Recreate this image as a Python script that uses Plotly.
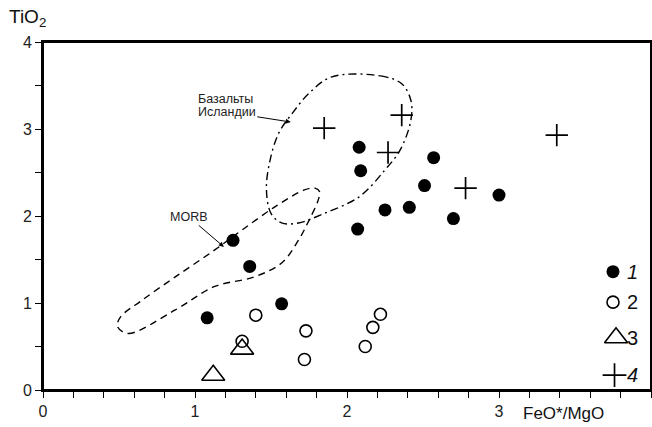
import plotly.graph_objects as go

# Series 1 (filled circles)
s1_x = [1.08, 1.25, 1.36, 1.57, 2.08, 2.09, 2.07, 2.25, 2.41, 2.51, 2.57, 2.70, 3.00]
s1_y = [0.83, 1.72, 1.42, 0.99, 2.79, 2.52, 1.85, 2.07, 2.10, 2.35, 2.67, 1.97, 2.24]
# Series 2 (open circles)
s2_x = [1.40, 1.31, 1.73, 1.72, 2.12, 2.17, 2.22]
s2_y = [0.86, 0.56, 0.68, 0.35, 0.50, 0.72, 0.87]
# Series 3 (open triangles)
s3_x = [1.31, 1.12]
s3_y = [0.47, 0.17]
# Series 4 (crosses)
s4_x = [1.85, 2.36, 2.27, 2.78, 3.38]
s4_y = [3.01, 3.16, 2.73, 2.32, 2.93]

# Iceland basalt field (dash-dot)
ice_x = [1.90, 2.22, 2.36, 2.42, 2.42, 2.35, 2.25, 2.08, 1.85, 1.68, 1.57, 1.50, 1.47, 1.49, 1.55, 1.64, 1.75, 1.90]
ice_y = [3.60, 3.61, 3.52, 3.33, 3.10, 2.76, 2.53, 2.22, 2.03, 1.92, 1.92, 2.03, 2.30, 2.61, 2.95, 3.18, 3.41, 3.60]
# MORB field (dashed)
morb_x = [0.49, 0.56, 0.87, 1.13, 1.39, 1.57, 1.68, 1.75, 1.81, 1.82, 1.79, 1.72, 1.53, 1.31, 1.13, 0.87, 0.65, 0.51, 0.49]
morb_y = [0.73, 0.65, 0.92, 1.19, 1.30, 1.46, 1.72, 1.95, 2.18, 2.28, 2.32, 2.30, 2.11, 1.84, 1.61, 1.30, 1.03, 0.84, 0.73]

# Legend
leg_x = 3.75
leg_y = [1.36, 1.01, 0.60, 0.17]
leg_labels = ["<i>1</i>", "2", "3", "<i>4</i>"]

x_ticks = [0, 1, 2, 3, 4]
y_ticks = [0, 1, 2, 3, 4]

fig = go.Figure()

fig.add_trace(go.Scatter(x=ice_x, y=ice_y, mode="lines",
                         line=dict(color="black", width=1.4, dash="8px,4px,2px,4px", shape="spline", smoothing=1.0),
                         hoverinfo="skip"))
fig.add_trace(go.Scatter(x=morb_x, y=morb_y, mode="lines",
                         line=dict(color="black", width=1.4, dash="7px,5px", shape="spline", smoothing=1.0),
                         hoverinfo="skip"))

fig.add_trace(go.Scatter(x=s1_x, y=s1_y, mode="markers",
                         marker=dict(symbol="circle", size=13, color="black")))
fig.add_trace(go.Scatter(x=s2_x, y=s2_y, mode="markers",
                         marker=dict(symbol="circle-open", size=12, color="black", line=dict(width=1.6))))
fig.add_trace(go.Scatter(x=s3_x, y=s3_y, mode="markers",
                         marker=dict(symbol="triangle-up-open", size=20, color="black", line=dict(width=1.6))))
fig.add_trace(go.Scatter(x=s4_x, y=s4_y, mode="markers",
                         marker=dict(symbol="cross-thin-open", size=16, color="black", line=dict(width=1.7))))

# legend markers
fig.add_trace(go.Scatter(x=[leg_x], y=[leg_y[0]], mode="markers",
                         marker=dict(symbol="circle", size=13, color="black")))
fig.add_trace(go.Scatter(x=[leg_x], y=[leg_y[1]], mode="markers",
                         marker=dict(symbol="circle-open", size=12, color="black", line=dict(width=1.6))))
fig.add_trace(go.Scatter(x=[leg_x + 0.02], y=[leg_y[2]], mode="markers",
                         marker=dict(symbol="triangle-up-open", size=20, color="black", line=dict(width=1.6))))
fig.add_trace(go.Scatter(x=[leg_x + 0.01], y=[leg_y[3]], mode="markers",
                         marker=dict(symbol="cross-thin-open", size=17, color="black", line=dict(width=1.7))))

for yy, lab in zip(leg_y, leg_labels):
    fig.add_annotation(x=leg_x + 0.08, y=yy, text=lab, showarrow=False, xanchor="left",
                       font=dict(size=20, color="#111", family="Liberation Sans"))

# field labels with arrows
fig.add_annotation(x=1.20, y=3.35, text="Базальты", showarrow=False,
                   font=dict(size=12.5, color="#222", family="Liberation Sans"))
fig.add_annotation(x=1.63, y=3.08, ax=-64, ay=-10, text="Исландии", showarrow=True,
                   arrowhead=2, arrowsize=1, arrowwidth=1, arrowcolor="black",
                   font=dict(size=12.5, color="#222", family="Liberation Sans"))
fig.add_annotation(x=1.19, y=1.645, ax=-35, ay=-30, text="MORB", showarrow=True,
                   arrowhead=2, arrowsize=1, arrowwidth=1, arrowcolor="black",
                   font=dict(size=12.5, color="#222", family="Liberation Sans"))

# axis titles
fig.add_annotation(xref="paper", yref="paper", x=-0.025, y=1.028, xanchor="center", yanchor="bottom",
                   text="TiO<sub>2</sub>", showarrow=False,
                   font=dict(size=19, color="#111", family="Liberation Sans"))
fig.add_annotation(xref="paper", yref="paper", x=0.926, y=-0.035, xanchor="right", yanchor="top",
                   text="FeO*/MgO", showarrow=False,
                   font=dict(size=17, color="#111", family="Liberation Sans"))

# frame
fig.add_shape(type="rect", xref="paper", yref="paper", x0=0, y0=0, x1=1, y1=1,
              line=dict(color="black", width=2), layer="above")

axis_common = dict(showline=True, linecolor="black", linewidth=2, mirror=True,
                   showgrid=False, zeroline=False, ticks="outside", ticklen=6,
                   tickwidth=1.4, tickcolor="black", automargin=False,
                   tickfont=dict(size=16, color="#222", family="Liberation Sans"))

fig.update_xaxes(range=[0, 4], tickvals=x_ticks, ticktext=[str(v) for v in x_ticks],
                 minor=dict(dtick=0.2, tick0=0, ticks="outside", ticklen=6, tickwidth=1.4, tickcolor="black"),
                 **axis_common)
fig.update_yaxes(range=[0, 4], tickvals=y_ticks, ticktext=[str(v) for v in y_ticks],
                 minor=dict(dtick=0.5, tick0=0, ticks="outside", ticklen=6, tickwidth=1.4, tickcolor="black"),
                 **axis_common)

fig.update_layout(width=652, height=427, showlegend=False,
                  margin=dict(l=43, r=1, t=42, b=37),
                  plot_bgcolor="white", paper_bgcolor="white")

fig.write_html("out.html")
